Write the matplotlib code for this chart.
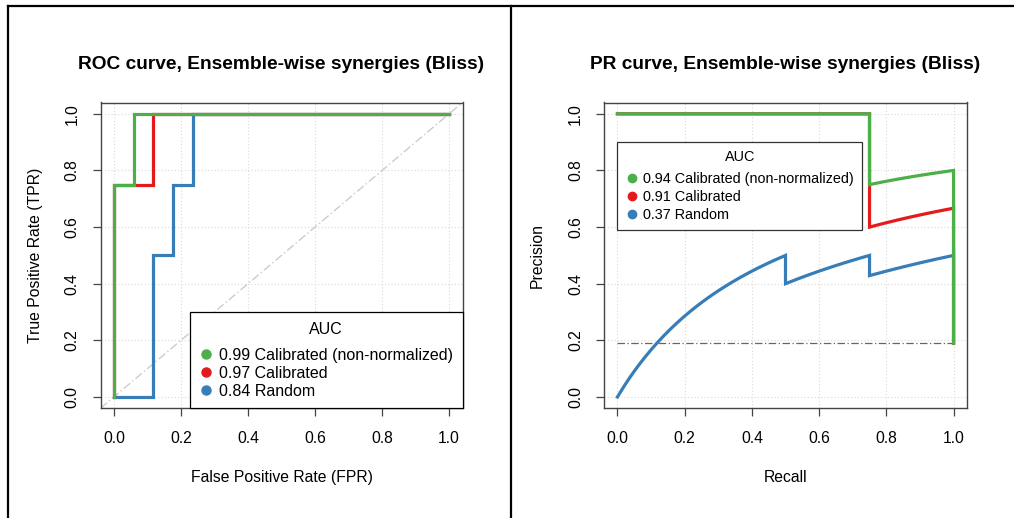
import numpy as np
import matplotlib
matplotlib.use("Agg")
import matplotlib.pyplot as plt
from matplotlib.lines import Line2D

plt.rcParams['font.family'] = ['Liberation Sans', 'DejaVu Sans']

# Ranked cumulative counts (true positives / false positives) per classifier
n_pos = 4
n_neg = 17
labels = ["Calibrated (non-normalized)", "Calibrated", "Random"]
colors = ["#4DAF4A", "#E41A1C", "#377EB8"]
tp_counts = [
    [0, 3, 3, 4, 4],
    [0, 3, 3, 4, 4],
    [0, 0, 2, 2, 3, 3, 4, 4],
]
fp_counts = [
    [0, 0, 1, 1, 17],
    [0, 0, 2, 2, 17],
    [0, 2, 2, 3, 3, 4, 4, 17],
]
roc_auc = [0.99, 0.97, 0.84]
pr_auc = [0.94, 0.91, 0.37]
ticks = [0.0, 0.2, 0.4, 0.6, 0.8, 1.0]
tick_labels = ["0.0", "0.2", "0.4", "0.6", "0.8", "1.0"]


def pr_points(tp, fp, npos, steps=80):
    """Precision/recall with interpolation between successive count pairs."""
    rec, prec = [], []
    for i in range(len(tp) - 1):
        t0, t1, f0, f1 = tp[i], tp[i + 1], fp[i], fp[i + 1]
        if t1 > t0:
            x = np.linspace(0, t1 - t0, steps)
            t = t0 + x
            f = np.full_like(x, f0, dtype=float)
            den = t + f
            p = np.where(den > 0, t / np.where(den > 0, den, 1), 1.0)
            rec.extend(t / npos)
            prec.extend(p)
        else:
            t = np.array([t0, t1], dtype=float)
            f = np.array([f0, f1], dtype=float)
            den = t + f
            ok = den > 0
            rec.extend(t[ok] / npos)
            prec.extend(t[ok] / den[ok])
    return np.array(rec), np.array(prec)


fig = plt.figure(figsize=(10.14, 5.18), dpi=100)
W, H = 1014.0, 518.0


def make_axes(left, right, top, bottom):
    return fig.add_axes([left / W, 1 - bottom / H, (right - left) / W, (bottom - top) / H])


ax1 = make_axes(100.5, 462.5, 102.5, 408.3)
ax2 = make_axes(604.0, 967.0, 102.5, 408.3)

FS = 11.3
frame_col = "#444444"

for ax in (ax1, ax2):
    ax.set_xlim(-0.04, 1.04)
    ax.set_ylim(-0.04, 1.04)
    ax.set_xticks(ticks)
    ax.set_xticklabels(tick_labels, fontsize=FS)
    ax.set_yticks(ticks)
    ax.set_yticklabels(tick_labels, fontsize=FS, rotation=90, va="center", ha="right")
    ax.tick_params(axis="both", direction="out", length=6, width=0.9, color=frame_col)
    ax.tick_params(axis="x", pad=10)
    ax.tick_params(axis="y", pad=9)
    for s in ax.spines.values():
        s.set_color(frame_col)
        s.set_linewidth(1.0)
    ax.grid(True, color="#d9d9d9", linestyle=(0, (1, 2)), linewidth=0.8)
    ax.set_axisbelow(True)

# ROC panel
ax1.axline((0, 0), (1, 1), color="#cccccc", linewidth=1.0, linestyle=(0, (6, 2, 1, 2)))
for i in [2, 1, 0]:
    fpr = np.array(fp_counts[i]) / n_neg
    tpr = np.array(tp_counts[i]) / n_pos
    ax1.plot(fpr, tpr, color=colors[i], linewidth=2.3, solid_joinstyle="miter")
ax1.set_title("ROC curve, Ensemble-wise synergies (Bliss)", fontsize=13.8,
              fontweight="bold", pad=24)
ax1.set_xlabel("False Positive Rate (FPR)", fontsize=FS, labelpad=17.5)
ax1.set_ylabel("True Positive Rate (TPR)", fontsize=FS, labelpad=15.5)

handles1 = [Line2D([], [], marker="o", linestyle="none", markersize=6.5,
                   color=colors[i], label=f"{roc_auc[i]:.2f} {labels[i]}") for i in range(3)]
leg1 = ax1.legend(handles=handles1, title="AUC", loc="lower right", bbox_to_anchor=(1, 0),
                  borderaxespad=0, fontsize=FS * 1.02, title_fontsize=FS * 1.02,
                  frameon=True, fancybox=False, edgecolor="black", framealpha=1,
                  borderpad=0.6, handlelength=0.8, handletextpad=0.4,
                  labelspacing=0.19, handleheight=0.7)
leg1.get_frame().set_linewidth(0.9)
leg1._legend_box.sep = 8.0

# PR panel
baseline = n_pos / (n_pos + n_neg)
ax2.plot([0, 1], [baseline, baseline], color="#666666", linewidth=0.9,
         linestyle=(0, (6, 2, 1, 2)))
for i in [2, 1, 0]:
    r, p = pr_points(tp_counts[i], fp_counts[i], n_pos)
    ax2.plot(r, p, color=colors[i], linewidth=2.3, solid_joinstyle="miter")
ax2.set_title("PR curve, Ensemble-wise synergies (Bliss)", fontsize=13.8,
              fontweight="bold", pad=24)
ax2.set_xlabel("Recall", fontsize=FS, labelpad=17.5)
ax2.set_ylabel("Precision", fontsize=FS, labelpad=17)

handles2 = [Line2D([], [], marker="o", linestyle="none", markersize=6,
                   color=colors[i], label=f"{pr_auc[i]:.2f} {labels[i]}") for i in range(3)]
leg2 = ax2.legend(handles=handles2, title="AUC", loc="upper left", bbox_to_anchor=(0, 0.9),
                  bbox_transform=ax2.transData, borderaxespad=0,
                  fontsize=FS * 0.92, title_fontsize=FS * 0.92,
                  frameon=True, fancybox=False, edgecolor="#333333", framealpha=1,
                  borderpad=0.55, handlelength=0.85, handletextpad=0.4,
                  labelspacing=0.28, handleheight=0.7)
leg2.get_frame().set_linewidth(0.9)
leg2._legend_box.sep = 5.5

# Panel frames
lw = 1.6
fig.add_artist(Line2D([8 / W, 1.0], [1 - 6 / H, 1 - 6 / H], color="black", linewidth=lw,
                      transform=fig.transFigure))
fig.add_artist(Line2D([8 / W, 8 / W], [0, 1 - 6 / H], color="black", linewidth=lw,
                      transform=fig.transFigure))
fig.add_artist(Line2D([511.5 / W, 511.5 / W], [0, 1 - 6 / H], color="black", linewidth=lw,
                      transform=fig.transFigure))

fig.savefig("out.png", dpi=100)
